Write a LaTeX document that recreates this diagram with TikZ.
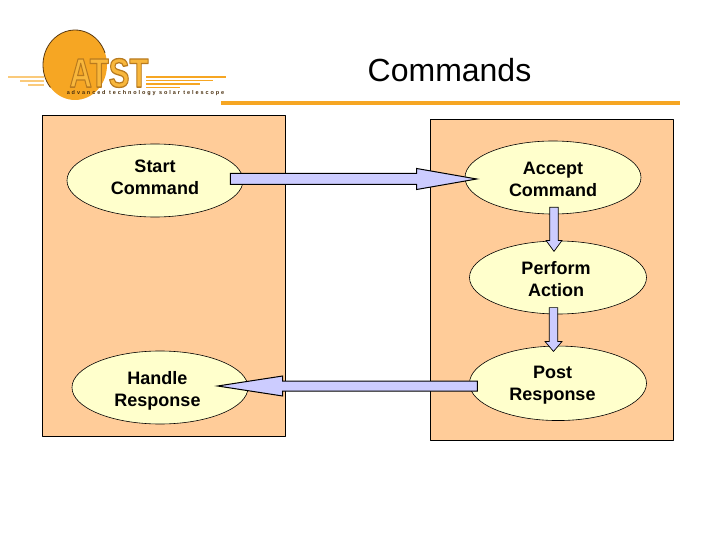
\documentclass[tikz,border=0pt]{standalone}
\usepackage{fontspec}
\setmainfont{Liberation Sans}
\usepackage{tikz}
\usetikzlibrary{calc,shapes.geometric}
\definecolor{panelfill}{HTML}{FFCC99}
\definecolor{ovalfill}{HTML}{FFFFCC}
\definecolor{arrowfill}{HTML}{CCCCFF}
\definecolor{sunorange}{HTML}{F6A623}
\definecolor{logofill}{HTML}{F8B73C}
\definecolor{sundark}{HTML}{5A3A10}
\tikzset{
  panelbox/.style={draw=black,line width=0.8pt,fill=panelfill},
  stateoval/.style={ellipse,draw=black,line width=0.6pt,fill=ovalfill,inner sep=0pt},
  statelabel/.style={align=center,inner sep=0pt,font=\fontsize{18}{22}\selectfont\bfseries},
  blockarrow/.style n args={3}{draw=black,line width=1pt,fill=arrowfill,line join=miter,
    to path={
      -- ($(\tikztostart)!#1!90:(\tikztotarget)$)
      -- ($($(\tikztotarget)!#3!(\tikztostart)$)!#1!-90:(\tikztostart)$)
      -- ($($(\tikztotarget)!#3!(\tikztostart)$)!#2!-90:(\tikztostart)$)
      -- (\tikztotarget)
      -- ($($(\tikztotarget)!#3!(\tikztostart)$)!#2!90:(\tikztostart)$)
      -- ($($(\tikztotarget)!#3!(\tikztostart)$)!#1!90:(\tikztostart)$)
      -- ($(\tikztostart)!#1!-90:(\tikztotarget)$)
      -- cycle}},
  streak/.style={sunorange,line width=1.2pt}
}
\begin{document}
\begin{tikzpicture}[x=1pt,y=-1pt,line cap=butt,line join=round]
\useasboundingbox (0,0) rectangle (720,540);
\foreach \y/\a/\b in {77/8/44,81/20/44,85/28/44} {\draw[streak,sunorange!60] (\a,\y) -- (\b,\y);}
\foreach \y/\a/\b in {77/146/226,80.5/146/213,84/146/200,87.5/146/180} {\draw[streak] (\a,\y) -- (\b,\y);}
\fill[sunorange] (75,65) circle [x radius=32,y radius=35];
\draw[sundark,line width=0.8pt] (75,65) ++(140:32 and 35) arc (140:340:32 and 35);
\node[font=\fontsize{41}{41}\selectfont\bfseries,text=logofill,xscale=0.76,inner sep=0pt] (logotext) at (109,73)
  {\special{pdf:code q 2 Tr 1.3 w 0.72 0.48 0.12 RG}ATST\special{pdf:code Q}};
\node[font=\fontsize{5.5}{6}\selectfont\bfseries\addfontfeature{LetterSpace=35},text=sundark!80!black,inner sep=0pt] (logosub) at (145.5,93) {advanced technology solar telescope};
\node[font=\fontsize{32}{36}\selectfont,inner sep=0pt] (title) at (449.5,70) {Commands};
\draw[sunorange,line width=4pt] (221,103.5) -- (680,103.5);
\draw[panelbox] (42,115) rectangle (285,436);
\draw[panelbox] (430,119) rectangle (673,440);
\node[stateoval,minimum width=176pt,minimum height=73pt,label={[statelabel,yshift=3pt]center:Start\\Command}] (start) at (155,180.5) {};
\node[stateoval,minimum width=176pt,minimum height=73pt,label={[statelabel,yshift=-1.5pt]center:Accept\\Command}] (accept) at (553,177.5) {};
\node[stateoval,minimum width=177pt,minimum height=73pt,label={[statelabel,xshift=-2pt,yshift=-2pt]center:Perform\\Action}] (perform) at (558,277.5) {};
\node[stateoval,minimum width=177pt,minimum height=74.5pt,label={[statelabel,xshift=-5.5pt,yshift=-1.7pt]center:Post\\Response}] (post) at (558,383.3) {};
\node[stateoval,minimum width=176pt,minimum height=73pt,label={[statelabel,xshift=-2.5pt,yshift=-3pt]center:Handle\\Response}] (handle) at (160,387.5) {};
\draw[blockarrow={5.5pt}{10.5pt}{60pt}] ([xshift=-13pt,yshift=1.5pt]start.east) to ([xshift=12pt,yshift=-1.5pt]accept.west);
\draw[blockarrow={4.2pt}{8pt}{11pt},line width=0.7pt] ([xshift=1pt,yshift=7pt]accept.south) to ([xshift=-4pt,yshift=-10.7pt]perform.north);
\draw[blockarrow={4.2pt}{8.5pt}{10pt},line width=0.7pt] ([xshift=-4.5pt,yshift=6.7pt]perform.south) to ([xshift=-4.5pt,yshift=-5.7pt]post.north);
\draw[blockarrow={5pt}{10pt}{65pt}] ([xshift=8.2pt,yshift=-2.7pt]post.west) to ([xshift=-30.7pt,yshift=1.5pt]handle.east);
\end{tikzpicture}
\end{document}
